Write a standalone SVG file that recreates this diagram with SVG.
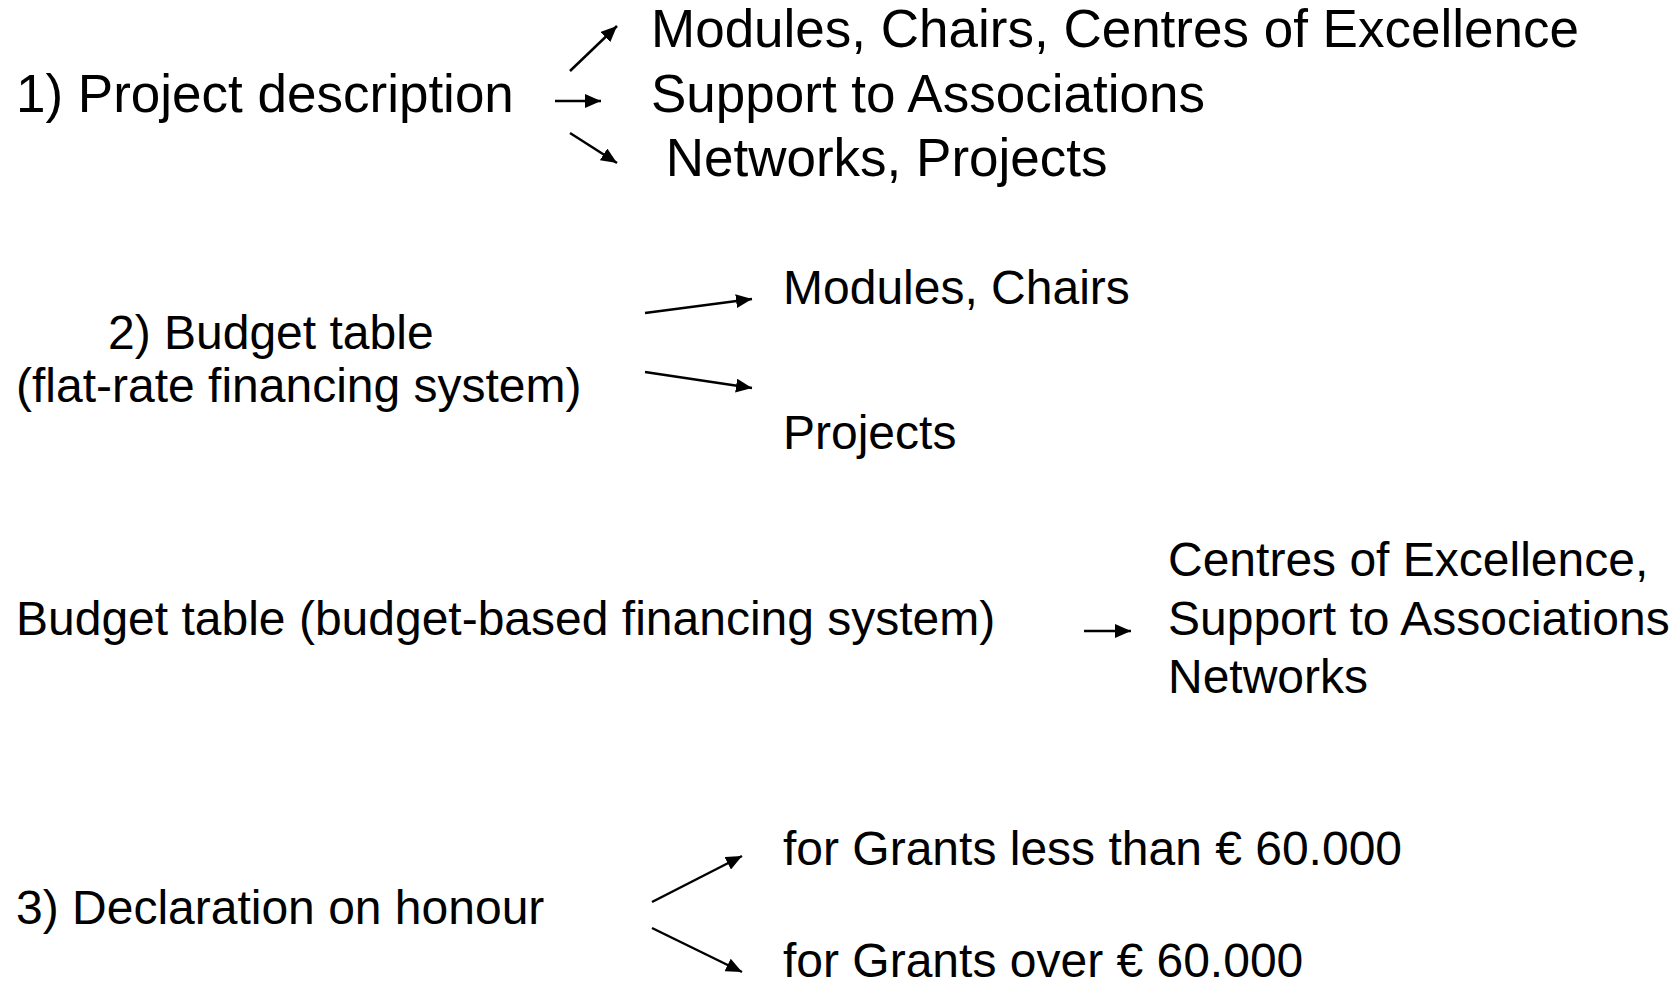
<svg xmlns="http://www.w3.org/2000/svg" width="1678" height="982" viewBox="0 0 1678 982">
<style>
text{font-family:"Liberation Sans",Arial,sans-serif;fill:#000}
.l{font-size:53px}
.m{font-size:48px}
.c line{stroke:#000;stroke-width:2.5;marker-end:url(#ah)}
</style>
<defs>
<marker id="ah" markerUnits="userSpaceOnUse" viewBox="0 0 16 14" refX="16" refY="7" markerWidth="16" markerHeight="14" orient="auto"><path d="M0,0 L16,7 L0,14 Z" fill="#000"/></marker>
</defs>
<rect width="1678" height="982" fill="#fff"/>
<g id="n1"><text class="l" x="16" y="111.5">1) Project description</text></g>
<g id="n1a"><text class="l" x="651" y="47">Modules, Chairs, Centres of Excellence</text></g>
<g id="n1b"><text class="l" x="651" y="111.5">Support to Associations</text></g>
<g id="n1c"><text class="l" x="651" y="175.6" xml:space="preserve"> Networks, Projects</text></g>
<g id="n2"><text class="m" x="108" y="349">2) Budget table</text><text class="m" x="16" y="401.5">(flat-rate financing system)</text></g>
<g id="n2a"><text class="m" x="783" y="304">Modules, Chairs</text></g>
<g id="n2b"><text class="m" x="783" y="448.5">Projects</text></g>
<g id="n2c"><text class="m" x="16" y="634.7">Budget table (budget-based financing system)</text></g>
<g id="n2d"><text class="m" x="1168" y="576">Centres of Excellence,</text><text class="m" x="1168" y="634.7">Support to Associations</text><text class="m" x="1168" y="692.5">Networks</text></g>
<g id="n3"><text class="m" x="16" y="923.7">3) Declaration on honour</text></g>
<g id="n3a"><text class="m" x="783" y="865">for Grants less than € 60.000</text></g>
<g id="n3b"><text class="m" x="783" y="977">for Grants over € 60.000</text></g>
<g id="connectors" class="c">
<line x1="570" y1="71" x2="617" y2="26"/>
<line x1="555" y1="101" x2="601" y2="101"/>
<line x1="570" y1="133" x2="617" y2="163"/>
<line x1="645" y1="313" x2="752" y2="299"/>
<line x1="645" y1="372" x2="752" y2="388"/>
<line x1="1084" y1="631" x2="1131" y2="631"/>
<line x1="652" y1="902" x2="742" y2="856"/>
<line x1="652" y1="928" x2="742" y2="972"/>
</g>
</svg>
